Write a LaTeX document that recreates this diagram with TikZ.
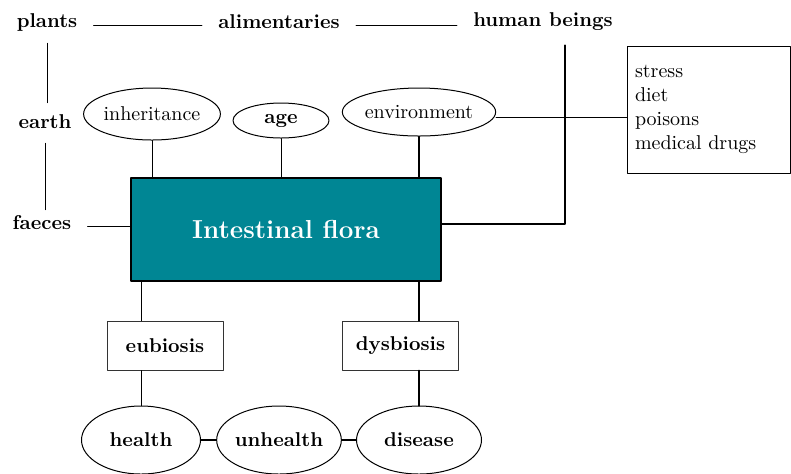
\documentclass[tikz,border=0pt]{standalone}
\usetikzlibrary{shapes.geometric}
\definecolor{floracol}{RGB}{0,134,148}
\begin{document}
\begin{tikzpicture}[x=0.5pt,y=-0.5pt,line cap=round,line join=round,
    lbl/.style={font=\bfseries,inner xsep=8pt,inner ysep=3pt},
    oval/.style={draw,ellipse,line width=0.5pt,inner sep=0pt},
    stage/.style={draw=black!80,line width=0.5pt,minimum width=58pt,minimum height=24.5pt,font=\bfseries},
    link/.style={line width=0.5pt},
    heavy/.style={line width=1pt}]
                \useasboundingbox (0,0) rectangle (791,473);
                \node[lbl] (plants) at (47,22) {plants};
                \node[lbl] (alim) at (279,22) {alimentaries};
                \node[lbl] (human) at (543,22) {human beings};
                \node[lbl] (earth) at (45,122) {earth};
                \node[lbl] (faeces) at (42,223) {faeces};
                \node[draw,line width=1pt,fill=floracol,text=white,font=\fontsize{13}{15}\selectfont\bfseries,minimum width=155pt,minimum height=51.5pt] (flora) at (286,229.5) {Intestinal flora};
                \node[oval,minimum width=63pt,minimum height=26pt] (inh) at (152,114) {inheritance};
                \node[oval,minimum width=48pt,minimum height=17.5pt,font=\bfseries] (age) at (281,120.5) {age};
                \node[oval,minimum width=70pt,minimum height=24pt] (env) at (419,112) {environment};
                \node[draw,line width=0.5pt,align=left,text width=73.5pt,inner xsep=4pt,minimum height=63.5pt] (factors) at (708.5,109.5) {stress\\diet\\poisons\\medical drugs};
                \node[stage] (eub) at (165,345.5) {eubiosis};
                \node[stage] (dys) at (400.5,345.5) {dysbiosis};
                \node[oval,minimum width=59.5pt,minimum height=34pt,font=\bfseries] (health) at (141,440) {health};
                \node[oval,minimum width=58pt,minimum height=34pt,font=\bfseries] (unhealth) at (279,440) {unhealth};
                \node[oval,minimum width=62.5pt,minimum height=34pt,font=\bfseries] (disease) at (419,440) {disease};
                \draw[link] ([yshift=-1.5pt]plants.east) -- ([yshift=-1.5pt]alim.west);
                \draw[link] ([yshift=-1.5pt]alim.east) -- ([yshift=-1.5pt]human.west);
                \draw[link] ([yshift=-3pt]plants.south) -- ([yshift=3pt]plants.south |- earth.north);
                \draw[link] ([yshift=-4pt]earth.south) -- (earth.south |- faeces.north);
                \draw[link] ([yshift=-1.5pt]faeces.east) -- ([yshift=-1.5pt]faeces.east -| flora.west);
                \draw[link] (inh.south) -- (inh.south |- flora.north);
                \draw[link] (age.south) -- (age.south |- flora.north);
                \draw[heavy] (env.south) -- (env.south |- flora.north);
                \draw[link] ([yshift=-2.5pt]env.east) -- ([yshift=-2.5pt]env.east -| factors.west);
                \draw[heavy] ([xshift=11pt,yshift=-4pt]human.south) |- ([yshift=3pt]flora.east);
                \draw[link] (flora.south -| health) -- (eub.north -| health);
                \draw[link] (eub.south -| health) -- (health.north);
                \draw[heavy] (flora.south -| disease) -- (dys.north -| disease);
                \draw[heavy] (dys.south -| disease) -- (disease.north);
                \draw[heavy] (health) -- (unhealth);
                \draw[heavy] (unhealth) -- (disease);
\end{tikzpicture}
\end{document}
